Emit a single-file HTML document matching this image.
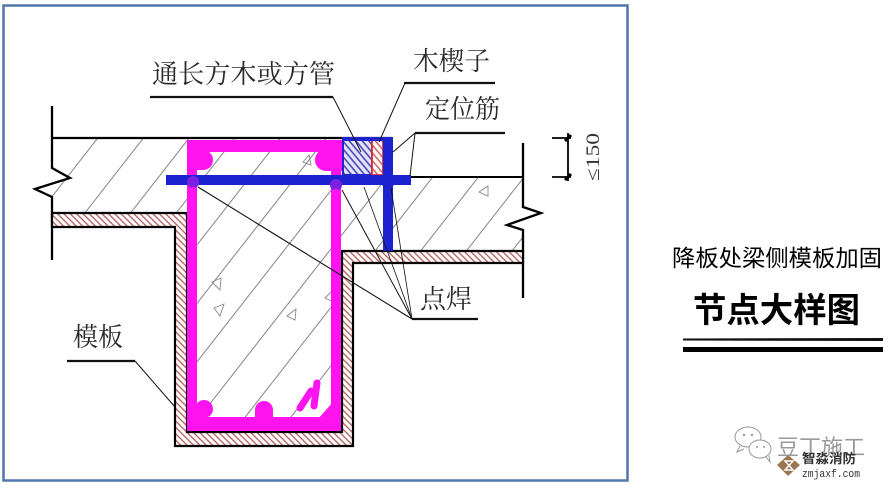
<!DOCTYPE html>
<html><head><meta charset="utf-8">
<style>
html,body{margin:0;padding:0;background:#fff;}
body{width:893px;height:485px;overflow:hidden;}
svg{display:block;}
.lbl{font-family:"Liberation Serif","Noto Serif CJK SC",serif;fill:#2a2a2a;}
.ttl{font-family:"Liberation Sans","Noto Sans CJK SC",sans-serif;fill:#000;}
</style></head>
<body>
<svg width="893" height="485" viewBox="0 0 893 485" xmlns="http://www.w3.org/2000/svg">
<defs>
  <pattern id="conc" patternUnits="userSpaceOnUse" width="36" height="200" patternTransform="rotate(38)">
    <rect x="0" y="0" width="36" height="200" fill="#fff"/>
    <line x1="18" y1="0" x2="18" y2="200" stroke="#777" stroke-width="0.9"/>
  </pattern>
  <pattern id="form" patternUnits="userSpaceOnUse" width="4.5" height="20" patternTransform="rotate(-45)">
    <rect x="0" y="0" width="4.5" height="20" fill="#fff"/>
    <line x1="2" y1="0" x2="2" y2="20" stroke="#b05a5a" stroke-width="1.3"/>
  </pattern>
  <pattern id="tube" patternUnits="userSpaceOnUse" width="5" height="20" patternTransform="rotate(-40)">
    <rect x="0" y="0" width="5" height="20" fill="#e4e4f6"/>
    <line x1="2" y1="0" x2="2" y2="20" stroke="#3b3bb8" stroke-width="1.5"/>
  </pattern>
  <pattern id="wedge" patternUnits="userSpaceOnUse" width="5" height="20" patternTransform="rotate(-40)">
    <rect x="0" y="0" width="5" height="20" fill="#fff"/>
    <line x1="2" y1="0" x2="2" y2="20" stroke="#d45050" stroke-width="1.4"/>
  </pattern>
</defs>

<!-- frame -->
<rect x="3.5" y="5.5" width="624" height="475" fill="none" stroke="#5077aa" stroke-width="2.5"/>

<!-- concrete -->
<polygon points="52,138 392,138 392,177 523,177 523,251 342,251 342,432 187,432 187,213 52,213" fill="url(#conc)"/>

<!-- aggregate triangles -->
<g fill="none" stroke="#888" stroke-width="0.9">
  <polygon points="212,282 221,278 220,290"/>
  <polygon points="214,308 224,304 220,316"/>
  <polygon points="287,316 296,309 295,320"/>
  <polygon points="325,298 332,291 333,302"/>
  <polygon points="303,162 309,155 311,165"/>
  <polygon points="479,192 488,186 488,196"/>
</g>

<!-- top slab line -->
<line x1="52" y1="138" x2="392" y2="138" stroke="#000" stroke-width="2.2"/>
<line x1="410" y1="177" x2="523" y2="177" stroke="#000" stroke-width="2"/>

<!-- left wall with break -->
<polyline points="52,106 52,168 70,178 35,189 52,197 52,260" fill="none" stroke="#000" stroke-width="2.3"/>
<!-- right wall with break -->
<polyline points="523,143 523,207 541,213 507,225 523,230 523,298" fill="none" stroke="#000" stroke-width="2.3"/>

<!-- formwork -->
<polygon points="52,213 187,213 187,432 342,432 342,251 523,251 523,263 353,263 353,446 175,446 175,227 52,227" fill="url(#form)" stroke="#000" stroke-width="2.2"/>

<!-- dimension -->
<g stroke="#000">
  <line x1="568" y1="133" x2="568" y2="181" stroke-width="1.8"/>
  <line x1="552" y1="138" x2="571" y2="138" stroke-width="1.8"/>
  <line x1="552" y1="177" x2="571" y2="177" stroke-width="1.8"/>
  <line x1="565" y1="141" x2="571" y2="135" stroke-width="3"/>
  <line x1="565" y1="180" x2="571" y2="174" stroke-width="3"/>
</g>
<text transform="translate(599,181) rotate(-90)" font-family="'Liberation Serif',serif" font-size="19" fill="#333" textLength="48" lengthAdjust="spacingAndGlyphs">≤150</text>

<!-- magenta cage -->
<g fill="#ff14f0">
  <rect x="187" y="140" width="155" height="12"/>
  <rect x="187" y="140" width="10" height="291"/>
  <rect x="331" y="140" width="10" height="291"/>
  <rect x="187" y="417" width="154" height="14"/>
  <circle cx="203" cy="160" r="10"/>
  <rect x="187" y="150" width="16" height="20"/>
  <circle cx="326" cy="160" r="11"/>
  <rect x="326" y="150" width="16" height="21"/>
  <circle cx="204" cy="409" r="9"/>
  <rect x="187" y="409" width="17" height="10"/>
  <circle cx="264" cy="410" r="9"/>
  <rect x="255" y="410" width="18" height="9"/>
  <polygon points="318,419 341,393 341,419"/>
</g>
<g stroke="#ff14f0" stroke-width="7" stroke-linecap="round">
  <line x1="300" y1="408" x2="311" y2="391"/>
  <line x1="314" y1="406" x2="317" y2="383"/>
</g>

<!-- square tube & wedge -->
<rect x="343" y="140" width="29" height="35" fill="url(#tube)" stroke="#2323c8" stroke-width="2"/>
<rect x="372" y="140" width="11" height="35" fill="url(#wedge)" stroke="#e03030" stroke-width="1.8"/>

<!-- blue bars -->
<g fill="#1c22cf">
  <rect x="342" y="137" width="51" height="4"/>
  <rect x="383" y="137" width="10" height="114"/>
  <rect x="166" y="175" width="245" height="10"/>
</g>
<g>
  <circle cx="193" cy="182" r="6" fill="#7a20e0"/>
  <circle cx="336" cy="185" r="6" fill="#7a20e0"/>
  <circle cx="388" cy="183" r="6" fill="#1c22cf"/>
  <circle cx="193" cy="191" r="4" fill="#ff14f0"/>
  <circle cx="336" cy="193" r="4" fill="#ff14f0"/>
</g>

<!-- leaders -->
<g stroke="#111" fill="none">
  <line x1="150" y1="97" x2="333" y2="97" stroke-width="2.2"/>
  <line x1="333" y1="97" x2="361" y2="152" stroke-width="1"/>
  <line x1="404" y1="83" x2="495" y2="83" stroke-width="2.2"/>
  <line x1="405" y1="83" x2="379" y2="142" stroke-width="1"/>
  <line x1="415" y1="133" x2="505" y2="133" stroke-width="2.2"/>
  <line x1="415" y1="133" x2="393" y2="152" stroke-width="1"/>
  <line x1="415" y1="133" x2="410" y2="176" stroke-width="1"/>
  <line x1="412" y1="319" x2="478" y2="319" stroke-width="2.2"/>
  <line x1="412" y1="319" x2="198" y2="187" stroke-width="1.1"/>
  <line x1="412" y1="319" x2="342" y2="190" stroke-width="1"/>
  <line x1="412" y1="319" x2="364" y2="187" stroke-width="0.8"/>
  <line x1="412" y1="319" x2="391" y2="188" stroke-width="0.8"/>
  <line x1="67" y1="361" x2="135" y2="361" stroke-width="2.2"/>
  <line x1="135" y1="361" x2="175" y2="407" stroke-width="1"/>
</g>

<!-- labels -->
<text class="lbl" x="152" y="83" font-size="26" textLength="183" lengthAdjust="spacingAndGlyphs">通长方木或方管</text>
<text class="lbl" x="413" y="70" font-size="26" textLength="77" lengthAdjust="spacingAndGlyphs">木楔子</text>
<text class="lbl" x="425" y="118" font-size="26" textLength="75" lengthAdjust="spacingAndGlyphs">定位筋</text>
<text class="lbl" x="420" y="308" font-size="26" textLength="52" lengthAdjust="spacingAndGlyphs">点焊</text>
<text class="lbl" x="73" y="346" font-size="26" textLength="50" lengthAdjust="spacingAndGlyphs">模板</text>

<!-- right panel -->
<text class="ttl" x="672" y="266" font-size="23" textLength="210" lengthAdjust="spacingAndGlyphs">降板处梁侧模板加固</text>
<text class="ttl" x="693" y="322" font-size="34" font-weight="bold" textLength="167" lengthAdjust="spacingAndGlyphs">节点大样图</text>
<polygon points="683,338.5 883,338 883,341 683,340.5" fill="#111"/>
<rect x="683" y="347" width="200" height="5" fill="#000"/>

<!-- watermark -->
<g fill="none" stroke="#999" stroke-width="1">
  <ellipse cx="748" cy="437" rx="13" ry="10"/>
  <ellipse cx="760" cy="449" rx="11" ry="9" fill="#fff"/>
  <path d="M740,446 l-3,6 l7,-3"/>
  <path d="M766,457 l4,5 l-1,-6"/>
</g>
<g fill="#999"><circle cx="744" cy="435" r="1.2"/><circle cx="752" cy="435" r="1.2"/><circle cx="757" cy="447" r="1"/><circle cx="764" cy="447" r="1"/></g>
<text x="777" y="455" font-family="'Liberation Sans','Noto Sans CJK SC',sans-serif" font-size="22" fill="#9a9a9a" textLength="88" lengthAdjust="spacingAndGlyphs">豆丁施工</text>
<polygon points="788,455 800,465 788,476 777,465" fill="#9b7652"/>
<polygon points="785,461 793,461 785,470 793,470" fill="none" stroke="#fff" stroke-width="1.5"/>
<text x="802" y="463" font-family="'Liberation Sans','Noto Sans CJK SC',sans-serif" font-size="13" font-weight="bold" fill="#333" textLength="54" lengthAdjust="spacingAndGlyphs">智淼消防</text>
<text x="802" y="477" font-family="'Liberation Mono',monospace" font-size="11" fill="#333" textLength="58" lengthAdjust="spacingAndGlyphs">zmjaxf.com</text>
</svg>
</body></html>
